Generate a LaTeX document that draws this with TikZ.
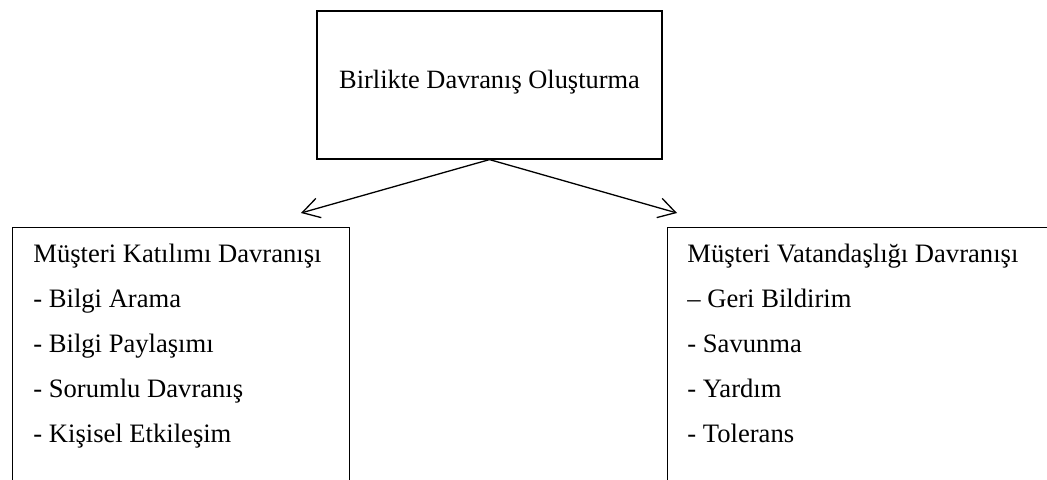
\documentclass[tikz,border=0pt]{standalone}
\usepackage{fontspec}
\setmainfont{Liberation Serif}
\usetikzlibrary{arrows.meta}

\begin{document}
\begin{tikzpicture}[x=0.5pt, y=-0.5pt,
    box/.style={draw, line width=0.6pt, rectangle, inner sep=0pt},
    listtext/.style={inner sep=0pt, anchor=north west, align=left, font=\fontsize{13.3}{22.4}\selectfont},
    arr/.style={line width=0.65pt, -{Straight Barb[length=8.5pt, width=10pt, line width=0.65pt]}}
]
\clip (0,0) rectangle (1047,480);

\node[box, minimum width=172.5pt, minimum height=74pt, text height=0.68em, text depth=0.3em,
    font=\fontsize{13.2}{16}\selectfont] (top) at (489.5,85) {Birlikte Davranış Oluşturma};

\node[box, anchor=north west, minimum width=168.5pt, minimum height=140pt] (left) at (12,227) {};
\node[listtext] (lefttext) at (33,244) {
    Müşteri Katılımı Davranışı\\
    - Bilgi Arama\\
    - Bilgi Paylaşımı\\
    - Sorumlu Davranış\\
    - Kişisel Etkileşim
};

\node[box, anchor=north west, minimum width=200pt, minimum height=140pt] (right) at (667,227) {};
\node[listtext] (righttext) at (687,244) {
    Müşteri Vatandaşlığı Davranışı\\
    – Geri Bildirim\\
    - Savunma\\
    - Yardım\\
    - Tolerans
};

\coordinate (ltip) at (301,213);
\coordinate (rtip) at (677,213);
\draw[arr] (top.south) -- (ltip);
\draw[arr] (top.south) -- (rtip);
\end{tikzpicture}
\end{document}
